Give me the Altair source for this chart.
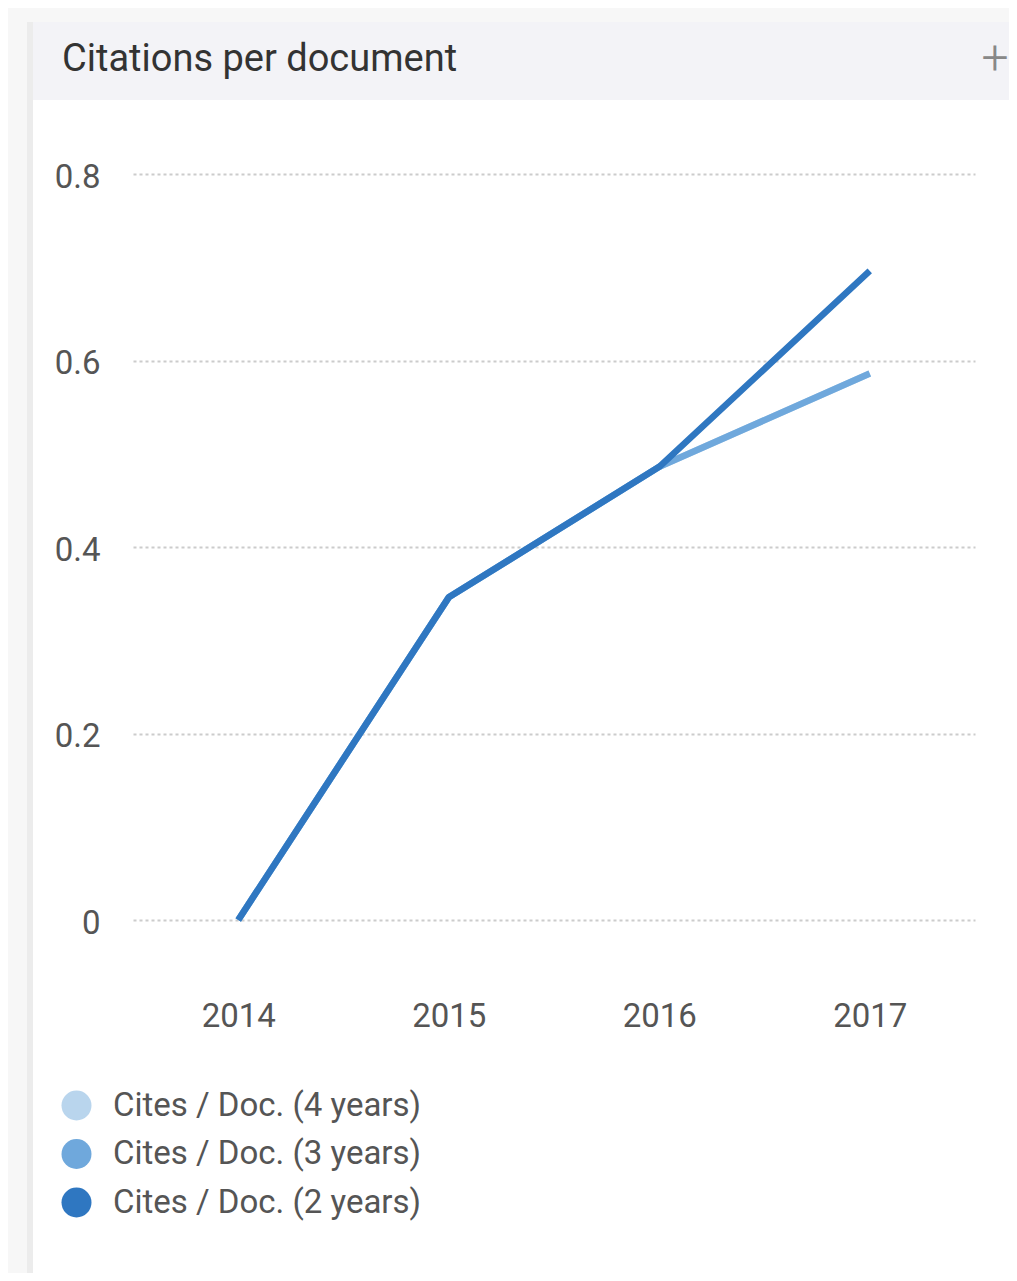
import altair as alt
import pandas as pd

years = ["2014", "2015", "2016", "2017"]
series = ["Cites / Doc. (4 years)", "Cites / Doc. (3 years)", "Cites / Doc. (2 years)"]
cites_4y = [0.0, 0.346, 0.486, 0.586]
cites_3y = [0.0, 0.346, 0.486, 0.586]
cites_2y = [0.0, 0.346, 0.486, 0.696]
colors = ["#b9d5ed", "#6fa8dc", "#2f77c1"]
title_text = "Citations per document"
y_ticks = [0, 0.2, 0.4, 0.6, 0.8]

rows = []
for s, vals in zip(series, [cites_4y, cites_3y, cites_2y]):
    for yr, v in zip(years, vals):
        rows.append({"Year": yr, "Series": s, "Value": v})
df = pd.DataFrame(rows)
one = pd.DataFrame({"t": [title_text], "p": ["+"]})

FONT = "Roboto"

x_enc = alt.X(
    "Year:O", sort=years,
    scale=alt.Scale(type="point", padding=0.5),
    axis=alt.Axis(title=None, labelAngle=0, ticks=False, tickSize=0, domain=False,
                  grid=False, labelPadding=80, labelFontSize=33, labelColor="#555555",
                  labelFont=FONT),
)
y_enc = alt.Y(
    "Value:Q",
    scale=alt.Scale(domain=[0, 0.8], nice=False, zero=True),
    axis=alt.Axis(title=None, values=y_ticks,
                  labelExpr="datum.value == 0 ? '0' : format(datum.value, '.1f')",
                  ticks=False, tickSize=0, domain=False, grid=True,
                  gridDash=[3, 3], gridColor="#cccccc", gridWidth=2,
                  labelPadding=33, labelFontSize=33, labelColor="#555555",
                  labelFont=FONT, labelOffset=3),
)
color_scale = alt.Scale(domain=series, range=colors)

base1 = alt.Chart(one)
left_strip = base1.mark_rect(color="#f7f7f7").encode(
    x=alt.value(-140), x2=alt.value(-106), y=alt.value(-180), y2=alt.value(1200))
top_strip = base1.mark_rect(color="#f7f7f7").encode(
    x=alt.value(-140), x2=alt.value(900), y=alt.value(-180), y2=alt.value(-152))
card_border = base1.mark_rect(color="#ececec").encode(
    x=alt.value(-106), x2=alt.value(-100), y=alt.value(-152), y2=alt.value(1200))
header = base1.mark_rect(color="#f3f3f7").encode(
    x=alt.value(-100), x2=alt.value(900), y=alt.value(-152), y2=alt.value(-74))
title = base1.mark_text(align="left", baseline="middle", fontSize=38, font=FONT,
                        color="#333333").encode(
    text="t:N", x=alt.value(-71), y=alt.value(-114))
plus = base1.mark_text(align="center", baseline="middle", fontSize=48, font=FONT,
                       fontWeight=300, color="#888888").encode(
    text="p:N", x=alt.value(862), y=alt.value(-114))

legend_layer = alt.Chart(df).mark_circle(size=0, opacity=1).encode(
    x=x_enc, y=y_enc,
    color=alt.Color("Series:N", scale=color_scale, sort=series,
                    legend=alt.Legend(title=None, orient="none", legendX=-73, legendY=915,
                                      symbolType="circle", symbolSize=900,
                                      symbolOpacity=1, symbolStrokeWidth=0,
                                      labelFontSize=33, labelFont=FONT,
                                      labelColor="#555555", labelOffset=20,
                                      labelLimit=500,
                                      rowPadding=14.5, padding=0, direction="vertical")),
)

lines = []
for s in series:
    lines.append(
        alt.Chart(df).transform_filter(alt.datum.Series == s)
        .mark_line(strokeWidth=6.5, strokeCap="butt", strokeJoin="round")
        .encode(x=x_enc, y=y_enc,
                color=alt.Color("Series:N", scale=color_scale, legend=None))
    )

chart = alt.layer(left_strip, top_strip, card_border, header, title, plus,
                  legend_layer, *lines).properties(
    width=842, height=746,
    padding={"left": 125, "top": 166, "right": 34, "bottom": 353},
    autosize="none",
    background="#ffffff",
).configure_view(stroke=None)

chart.save("out.html", embed_options={"renderer": "svg", "actions": False})
